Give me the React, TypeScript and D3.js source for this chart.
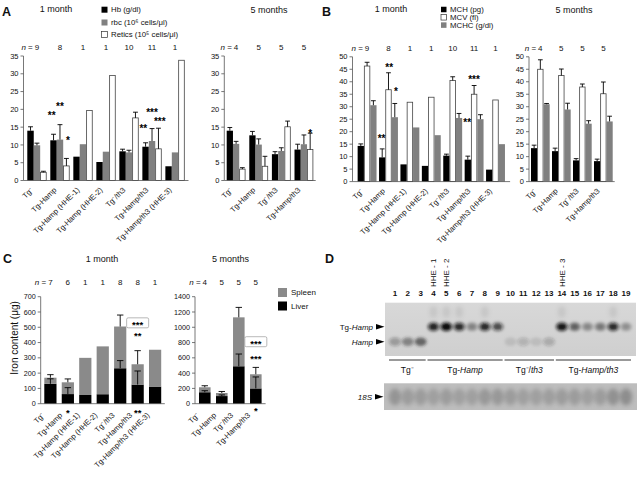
import React from "react";
import * as d3 from "d3";

const FONT = "'Liberation Sans', Arial, Helvetica, sans-serif";
const AXIS = "#555";
const GREY = "#808080";
const INK = "#111";

// ---------- categories ----------
const catsM1 = ["Tg⁻", "Tg-Hamp", "Tg-Hamp (HHE-1)", "Tg-Hamp (HHE-2)", "Tg⁻/th3", "Tg-Hamp/th3", "Tg-Hamp/th3 (HHE-3)"];
const catsM5 = ["Tg⁻", "Tg-Hamp", "Tg⁻/th3", "Tg-Hamp/th3"];
const nAB1 = ["9", "8", "1", "1", "10", "11", "1"];
const nAB5 = ["4", "5", "5", "5"];
const nC1 = ["7", "6", "1", "1", "8", "8", "1"];
const nC5 = ["4", "5", "5", "5"];

// ---------- panel A ----------
const hbM1 = [14.0, 11.3, 6.7, 5.2, 8.2, 9.5, 4.0];
const hbM1Err = [1.1, 1.7, null, null, 0.6, 1.1, null];
const rbcM1 = [9.9, 11.5, 10.2, 8.1, 7.9, 11.1, 7.9];
const rbcM1Err = [0.6, 4.2, null, null, 0.6, 3.5, null];
const retM1 = [2.3, 4.1, 19.7, 29.5, 17.6, 8.9, 33.8];
const retM1Err = [0.3, 2.1, null, null, 1.6, 5.8, null];

const hbM5 = [14.0, 12.7, 7.4, 8.7];
const hbM5Err = [0.9, 1.1, 0.7, 1.5];
const rbcM5 = [10.3, 10.1, 8.3, 10.2];
const rbcM5Err = [0.7, 1.6, 0.9, 2.6];
const retM5 = [3.2, 4.0, 15.1, 8.7];
const retM5Err = [0.4, 2.8, 1.6, 4.6];

const yTicksA = [0, 5, 10, 15, 20, 25, 30, 35];

// ---------- panel B ----------
const mchM1 = [14.3, 9.7, 6.9, 6.3, 10.4, 8.8, 4.8];
const mchM1Err = [0.8, 3.4, null, null, 0.6, 1.4, null];
const mcvM1 = [46.3, 36.8, 31.8, 33.8, 40.5, 35.0, 32.7];
const mcvM1Err = [1.5, 6.8, null, null, 1.5, 3.5, null];
const mchcM1 = [30.6, 25.8, 21.7, 18.6, 25.5, 25.0, 15.0];
const mchcM1Err = [1.8, 5.5, null, null, 1.8, 1.8, null];

const mchM5 = [13.4, 12.2, 8.5, 8.2];
const mchM5Err = [1.2, 1.2, 0.7, 0.8];
const mcvM5 = [45.0, 42.5, 37.9, 35.2];
const mcvM5Err = [3.8, 2.6, 1.2, 4.7];
const mchcM5 = [31.0, 28.9, 23.2, 24.1];
const mchcM5Err = [0.3, 2.5, 1.2, 2.1];

const yTicksB = [0, 5, 10, 15, 20, 25, 30, 35, 40, 45, 50];

// ---------- panel C ----------
const liverM1 = [130, 63, 57, 62, 232, 125, 112];
const liverM1Err = [33, 42, null, null, 50, 89, null];
const spleenM1 = [40, 77, 243, 313, 273, 133, 241];
const totalM1Err = [20, 22, null, null, 75, 89, null];

const liverM5 = [150, 100, 490, 200];
const liverM5Err = [20, 15, 160, 150];
const spleenM5 = [65, 40, 640, 185];
const totalM5Err = [20, 20, 130, 90];

const yTicksC1 = [0, 100, 200, 300, 400, 500, 600, 700];
const yTicksC5 = [0, 200, 400, 600, 800, 1000, 1200, 1400];

// ---------- significance marks ----------
const annA1 = [
  { cat: 1, pos: 0.22, v: 18.7, text: "**" },
  { cat: 1, pos: 1.5, v: 21.5, text: "**" },
  { cat: 1, pos: 2.75, v: 11.75, text: "*" },
  { cat: 5, pos: 0.15, v: 15.2, text: "**" },
  { cat: 5, pos: 1.5, v: 19.7, text: "***" },
  { cat: 5, pos: 2.7, v: 17.1, text: "***" },
];
const annA5 = [{ cat: 3, pos: 2.5, v: 13.9, text: "*" }];
const annB1 = [
  { cat: 1, pos: 1.62, v: 46.7, text: "**" },
  { cat: 1, pos: 2.68, v: 37.0, text: "*" },
  { cat: 1, pos: 0.41, v: 18.0, text: "**" },
  { cat: 5, pos: 0.41, v: 24.5, text: "**" },
  { cat: 5, pos: 1.48, v: 41.9, text: "***" },
];
const annC1 = [
  { cat: 1, v: -48, text: "*" },
  { cat: 5, v: -48, text: "**" },
  { cat: 5, v: 529, text: "***", box: true },
  { cat: 5, v: 460, text: "**" },
];
const annC5 = [
  { cat: 3, v: 811, text: "***", box: true },
  { cat: 3, v: 615, text: "***" },
  { cat: 3, v: -70, text: "*" },
];

// ---------- panel D (northern blot) ----------
const lanes = ["1", "2", "3", "4", "5", "6", "7", "8", "9", "10", "11", "12", "13", "14", "15", "16", "17", "18", "19"];
const tgHampSignal = [0, 0, 0, 0.8, 1.0, 0.75, 0.3, 0.75, 0.55, 0, 0, 0, 0, 0.9, 0.45, 0.28, 0.35, 0.75, 0.25];
const hampSignal = [0.3, 0.45, 0.6, 0, 0, 0, 0, 0, 0, 0.1, 0.18, 0.1, 0.22, 0, 0, 0, 0, 0, 0];
const rna18S = [0.55, 0.45, 0.45, 0.4, 0.45, 0.4, 0.4, 0.5, 0.5, 0.45, 0.4, 0.4, 0.42, 0.45, 0.45, 0.4, 0.45, 0.6, 0.65];
const hheLanes = [
  { lane: "4", label: "HHE - 1" },
  { lane: "5", label: "HHE - 2" },
  { lane: "14", label: "HHE - 3" },
];
const blotGroups = [
  { parts: [["Tg⁻", false]], from: "1", to: "3" },
  { parts: [["Tg-", false], ["Hamp", true]], from: "4", to: "9" },
  { parts: [["Tg⁻/", false], ["th3", true]], from: "10", to: "13" },
  { parts: [["Tg-", false], ["Hamp/th3", true]], from: "14", to: "19" },
];

// ================= components =================
function YAxis({ x0, y, ticks, fs }) {
  return (
    <g>
      <line x1={x0} x2={x0} y1={y(ticks[0])} y2={y(ticks[ticks.length - 1])} stroke={AXIS} strokeWidth={0.8} />
      {ticks.map((t) => (
        <g key={t}>
          <line x1={x0 - 3} x2={x0} y1={y(t)} y2={y(t)} stroke={AXIS} strokeWidth={0.8} />
          <text x={x0 - 5} y={y(t)} dy="0.35em" textAnchor="end" fontSize={fs} fill={INK}>
            {t}
          </text>
        </g>
      ))}
    </g>
  );
}

function CatLabels({ x, cats, yAxis, fs, dx, dy }) {
  return (
    <g>
      {cats.map((c) => {
        const cx = x(c) + x.bandwidth() / 2 + dx;
        const cy = yAxis + dy;
        return (
          <text key={c} transform={`translate(${cx},${cy}) rotate(-45)`} textAnchor="end" fontSize={fs} fill={INK}>
            {c}
          </text>
        );
      })}
    </g>
  );
}

function NLabels({ x, cats, ns, y, fs }) {
  return (
    <g fontSize={fs} fill={INK}>
      {cats.map((c, i) => {
        const cx = x(c) + x.bandwidth() / 2;
        return (
          <g key={c}>
            <text x={cx} y={y} textAnchor="middle">{ns[i]}</text>
            {i === 0 && (
              <text x={cx - 4.2} y={y} textAnchor="end">
                <tspan fontStyle="italic">n</tspan> =
              </text>
            )}
          </g>
        );
      })}
    </g>
  );
}

function Stars({ x, y, text, box, fs }) {
  return (
    <g>
      {box && <rect x={x - 11} y={y - 5} width={22} height={10} rx={1.5} fill="#fff" stroke="#999" strokeWidth={0.7} />}
      <text x={x} y={y + fs * 0.55} textAnchor="middle" fontSize={fs} fontWeight="bold" fill="#000">
        {text}
      </text>
    </g>
  );
}

function GroupedPanel({ cats, ns, series, yMax, yTicks, x0, x1, yBottom, yTop, padIn, padOut, anns }) {
  const x = d3.scaleBand().domain(cats).range([x0, x1]).paddingInner(padIn).paddingOuter(padOut);
  const y = d3.scaleLinear().domain([0, yMax]).range([yBottom, yTop]);
  const sw = x.bandwidth() / series.length;
  return (
    <g>
      {cats.map((c, i) => (
        <g key={c}>
          {series.map((s, k) => {
            const v = s.values[i];
            const bx = x(c) + k * sw;
            return (
              <rect
                key={k}
                x={bx + (s.stroke ? 0.4 : 0)}
                y={y(v)}
                width={sw - (s.stroke ? 0.8 : 0)}
                height={y(0) - y(v)}
                fill={s.fill}
                stroke={s.stroke || "none"}
                strokeWidth={0.8}
              />
            );
          })}
          {series.map((s, k) => {
            const e = s.errs[i];
            if (e == null) return null;
            const cx = x(c) + k * sw + sw / 2;
            const v = s.values[i];
            return (
              <g key={"e" + k} stroke="#000" strokeWidth={0.9}>
                <line x1={cx} x2={cx} y1={y(v)} y2={y(v + e)} />
                <line x1={cx - sw * 0.38} x2={cx + sw * 0.38} y1={y(v + e)} y2={y(v + e)} />
              </g>
            );
          })}
        </g>
      ))}
      <line x1={x0} x2={x1} y1={y(0)} y2={y(0)} stroke={AXIS} strokeWidth={0.8} />
      <YAxis x0={x0} y={y} ticks={yTicks} fs={7.5} />
      <NLabels x={x} cats={cats} ns={ns} y={yTop - 6.3} fs={8} />
      <CatLabels x={x} cats={cats} yAxis={y(0)} fs={7.6} dx={-3} dy={10} />
      {anns.map((a, i) => (
        <Stars key={i} x={x(cats[a.cat]) + a.pos * sw} y={y(a.v)} text={a.text} fs={10} />
      ))}
    </g>
  );
}

function StackedPanel({ cats, ns, liver, liverErr, spleen, totalErr, yMax, yTicks, x0, x1, yBottom, yTop, padIn, padOut, anns }) {
  const x = d3.scaleBand().domain(cats).range([x0, x1]).paddingInner(padIn).paddingOuter(padOut);
  const y = d3.scaleLinear().domain([0, yMax]).range([yBottom, yTop]);
  const bw = x.bandwidth();
  const stack = d3.stack().keys(["liver", "spleen"])(cats.map((c, i) => ({ liver: liver[i], spleen: spleen[i] })));
  const fills = ["#000", "#8a8a8a"];
  return (
    <g>
      {stack.map((layer, k) =>
        layer.map((d, i) => (
          <rect key={k + "-" + i} x={x(cats[i])} y={y(d[1])} width={bw} height={y(d[0]) - y(d[1])} fill={fills[k]} />
        ))
      )}
      {cats.map((c, i) => {
        const cx = x(c) + bw / 2;
        const tot = liver[i] + spleen[i];
        return (
          <g key={c} stroke="#000" strokeWidth={0.9}>
            {totalErr[i] != null && (
              <g>
                <line x1={cx} x2={cx} y1={y(tot)} y2={y(tot + totalErr[i])} />
                <line x1={cx - 3.2} x2={cx + 3.2} y1={y(tot + totalErr[i])} y2={y(tot + totalErr[i])} />
              </g>
            )}
            {liverErr[i] != null && (
              <g>
                <line x1={cx} x2={cx} y1={y(liver[i])} y2={y(liver[i] + liverErr[i])} />
                <line x1={cx - 3.2} x2={cx + 3.2} y1={y(liver[i] + liverErr[i])} y2={y(liver[i] + liverErr[i])} />
              </g>
            )}
          </g>
        );
      })}
      <line x1={x0} x2={x1} y1={y(0)} y2={y(0)} stroke={AXIS} strokeWidth={0.8} />
      <YAxis x0={x0} y={y} ticks={yTicks} fs={7.2} />
      <NLabels x={x} cats={cats} ns={ns} y={284.8} fs={8} />
      <CatLabels x={x} cats={cats} yAxis={y(0)} fs={7.6} dx={-5} dy={12} />
      {anns.map((a, i) => (
        <Stars key={i} x={x(cats[a.cat]) + bw / 2} y={y(a.v)} text={a.text} box={a.box} fs={9.5} />
      ))}
    </g>
  );
}

function LegendItem({ x, y, fill, stroke, label, size }) {
  return (
    <g>
      <rect x={x} y={y - size / 2} width={size} height={size} fill={fill} stroke={stroke || "none"} strokeWidth={0.7} />
      <text x={x + size + 3.5} y={y} dy="0.35em" fontSize={7.8} fill={INK}>
        {label}
      </text>
    </g>
  );
}

function Arrow({ x, y }) {
  return <path d={`M${x},${y - 2.8} L${x + 8.5},${y} L${x},${y + 2.8} Z`} fill="#000" />;
}

function Blot() {
  const lx = d3.scalePoint().domain(lanes).range([395, 626]);
  const rowY = d3.scaleOrdinal().domain(["Tg-Hamp", "Hamp"]).range([326.7, 341.7]);
  return (
    <g>
      <defs>
        <filter id="blurBand" x="-50%" y="-80%" width="200%" height="260%">
          <feGaussianBlur stdDeviation="1.5" />
        </filter>
        <filter id="blurSoft" x="-50%" y="-80%" width="200%" height="260%">
          <feGaussianBlur stdDeviation="2.2" />
        </filter>
        <linearGradient id="blotBg" x1="0" y1="0" x2="0" y2="1">
          <stop offset="0" stopColor="#d8d8d8" />
          <stop offset="1" stopColor="#cfcfcf" />
        </linearGradient>
      </defs>
      {/* upper membrane */}
      <rect x={385} y={302.7} width={251} height={53.3} fill="url(#blotBg)" />
      {lanes.map((l, i) => (
        <g key={"s" + l} filter="url(#blurSoft)">
          {tgHampSignal[i] > 0.6 && <ellipse cx={lx(l)} cy={312} rx={4} ry={6} fill="#000" opacity={0.08} />}
        </g>
      ))}
      {lanes.map((l, i) => (
        <g key={"b" + l}>
          {tgHampSignal[i] > 0 && (
            <g filter="url(#blurBand)">
              <ellipse cx={lx(l)} cy={rowY("Tg-Hamp")} rx={6} ry={4.5} fill="#111" opacity={tgHampSignal[i] * 0.85} />
              <ellipse cx={lx(l)} cy={rowY("Tg-Hamp")} rx={3.4} ry={2.6} fill="#000" opacity={tgHampSignal[i] * 0.65} />
            </g>
          )}
          {hampSignal[i] > 0 && (
            <g filter="url(#blurBand)">
              <ellipse cx={lx(l)} cy={rowY("Hamp")} rx={6} ry={4.2} fill="#222" opacity={hampSignal[i]} />
            </g>
          )}
        </g>
      ))}
      {/* lower 18S membrane */}
      <rect x={384} y={383.3} width={253} height={26.7} fill="#bdbdbd" />
      {lanes.map((l, i) => (
        <ellipse key={"r" + l} cx={lx(l)} cy={397} rx={6.2} ry={8.5} fill="#555" opacity={rna18S[i] * 0.7} filter="url(#blurSoft)" />
      ))}
      {/* lane numbers */}
      {lanes.map((l) => (
        <text key={"n" + l} x={lx(l)} y={296.3} textAnchor="middle" fontSize={8} fontWeight="bold" fill={INK}>
          {l}
        </text>
      ))}
      {hheLanes.map((h) => (
        <text key={h.label} transform={`translate(${lx(h.lane) + 2.8},287) rotate(-90)`} fontSize={8} fill={INK}>
          {h.label}
        </text>
      ))}
      {/* band labels */}
      <text x={373} y={rowY("Tg-Hamp")} dy="0.35em" textAnchor="end" fontSize={8} fill={INK}>
        Tg-<tspan fontStyle="italic">Hamp</tspan>
      </text>
      <Arrow x={376} y={rowY("Tg-Hamp")} />
      <text x={373} y={rowY("Hamp")} dy="0.35em" textAnchor="end" fontSize={8} fontStyle="italic" fill={INK}>
        Hamp
      </text>
      <Arrow x={376} y={rowY("Hamp")} />
      <text x={372} y={396.7} dy="0.35em" textAnchor="end" fontSize={8} fontStyle="italic" fill={INK}>
        18S
      </text>
      <Arrow x={375} y={396.7} />
      {/* groups */}
      {blotGroups.map((g, i) => {
        const a = lx(g.from) - 6;
        const b = lx(g.to) + 5;
        return (
          <g key={i}>
            <line x1={a} x2={b} y1={360} y2={360} stroke="#000" strokeWidth={0.8} />
            <text x={(a + b) / 2} y={372.5} textAnchor="middle" fontSize={8.5} fill={INK}>
              {g.parts.map((p, j) => (
                <tspan key={j} fontStyle={p[1] ? "italic" : "normal"}>
                  {p[0]}
                </tspan>
              ))}
            </text>
          </g>
        );
      })}
    </g>
  );
}

export default function App() {
  return (
    <svg width={642} height={477} style={{ position: "absolute", left: 0, top: 0, background: "#fff" }} fontFamily={FONT}>
      <rect width={642} height={477} fill="#fff" />

      {/* ===== Panel A ===== */}
      <text x={2} y={16} fontSize={12.5} fontWeight="bold" fill={INK}>A</text>
      <text x={56} y={12} textAnchor="middle" fontSize={9} fill={INK}>1 month</text>
      <text x={269} y={13} textAnchor="middle" fontSize={9} fill={INK}>5 months</text>
      <LegendItem x={101.5} y={9.7} fill="#000" label="Hb (g/dl)" size={6} />
      <LegendItem x={101.5} y={22.5} fill={GREY} label="rbc (10⁶ cells/μl)" size={6} />
      <LegendItem x={101.5} y={34.5} fill="#fff" stroke="#333" label="Retics (10⁵ cells/μl)" size={6} />
      <GroupedPanel
        cats={catsM1}
        ns={nAB1}
        series={[
          { values: hbM1, errs: hbM1Err, fill: "#000" },
          { values: rbcM1, errs: rbcM1Err, fill: GREY },
          { values: retM1, errs: retM1Err, fill: "#fff", stroke: "#444" },
        ]}
        yMax={35}
        yTicks={yTicksA}
        x0={23.5}
        x1={188.5}
        yBottom={180.5}
        yTop={56}
        padIn={0.16}
        padOut={0.165}
        anns={annA1}
      />
      <GroupedPanel
        cats={catsM5}
        ns={nAB5}
        series={[
          { values: hbM5, errs: hbM5Err, fill: "#000" },
          { values: rbcM5, errs: rbcM5Err, fill: GREY },
          { values: retM5, errs: retM5Err, fill: "#fff", stroke: "#444" },
        ]}
        yMax={35}
        yTicks={yTicksA}
        x0={224.3}
        x1={315.7}
        yBottom={180.5}
        yTop={56}
        padIn={0.168}
        padOut={0.106}
        anns={annA5}
      />

      {/* ===== Panel B ===== */}
      <text x={322} y={16} fontSize={12.5} fontWeight="bold" fill={INK}>B</text>
      <text x={391} y={12} textAnchor="middle" fontSize={9} fill={INK}>1 month</text>
      <text x={574} y={13} textAnchor="middle" fontSize={9} fill={INK}>5 months</text>
      <LegendItem x={441} y={9.5} fill="#000" label="MCH (pg)" size={5.5} />
      <LegendItem x={441} y={17.3} fill="#fff" stroke="#333" label="MCV (fl)" size={5.5} />
      <LegendItem x={441} y={25.1} fill={GREY} label="MCHC (g/dl)" size={5.5} />
      <GroupedPanel
        cats={catsM1}
        ns={nAB1}
        series={[
          { values: mchM1, errs: mchM1Err, fill: "#000" },
          { values: mcvM1, errs: mcvM1Err, fill: "#fff", stroke: "#444" },
          { values: mchcM1, errs: mchcM1Err, fill: GREY },
        ]}
        yMax={50}
        yTicks={yTicksB}
        x0={352.5}
        x1={510.1}
        yBottom={181.6}
        yTop={56.8}
        padIn={0.117}
        padOut={0.24}
        anns={annB1}
      />
      <GroupedPanel
        cats={catsM5}
        ns={nAB5}
        series={[
          { values: mchM5, errs: mchM5Err, fill: "#000" },
          { values: mcvM5, errs: mcvM5Err, fill: "#fff", stroke: "#444" },
          { values: mchcM5, errs: mchcM5Err, fill: GREY },
        ]}
        yMax={50}
        yTicks={yTicksB}
        x0={529}
        x1={614.7}
        yBottom={181.6}
        yTop={56.8}
        padIn={0.11}
        padOut={0.095}
        anns={[]}
      />

      {/* ===== Panel C ===== */}
      <text x={3} y={263} fontSize={12.5} fontWeight="bold" fill={INK}>C</text>
      <text x={102} y={262} textAnchor="middle" fontSize={9} fill={INK}>1 month</text>
      <text x={230.5} y={262} textAnchor="middle" fontSize={9} fill={INK}>5 months</text>
      <text transform="translate(17.5,338) rotate(-90)" textAnchor="middle" fontSize={10} fill={INK}>
        Iron content (μg)
      </text>
      <StackedPanel
        cats={catsM1}
        ns={nC1}
        liver={liverM1}
        liverErr={liverM1Err}
        spleen={spleenM1}
        totalErr={totalM1Err}
        yMax={700}
        yTicks={yTicksC1}
        x0={40.7}
        x1={164.8}
        yBottom={403.7}
        yTop={296.7}
        padIn={0.3}
        padOut={0.206}
        anns={annC1}
      />
      <StackedPanel
        cats={catsM5}
        ns={nC5}
        liver={liverM5}
        liverErr={liverM5Err}
        spleen={spleenM5}
        totalErr={totalM5Err}
        yMax={1400}
        yTicks={yTicksC5}
        x0={195}
        x1={265.6}
        yBottom={403.7}
        yTop={296.7}
        padIn={0.32}
        padOut={0.235}
        anns={annC5}
      />
      <rect x={278} y={288} width={9} height={9} fill="#8a8a8a" />
      <text x={291} y={292.5} dy="0.35em" fontSize={8} fill={INK}>Spleen</text>
      <rect x={278} y={301.5} width={9} height={9} fill="#000" />
      <text x={291} y={306} dy="0.35em" fontSize={8} fill={INK}>Liver</text>

      {/* ===== Panel D ===== */}
      <text x={325} y={263} fontSize={12.5} fontWeight="bold" fill={INK}>D</text>
      <Blot />
    </svg>
  );
}
